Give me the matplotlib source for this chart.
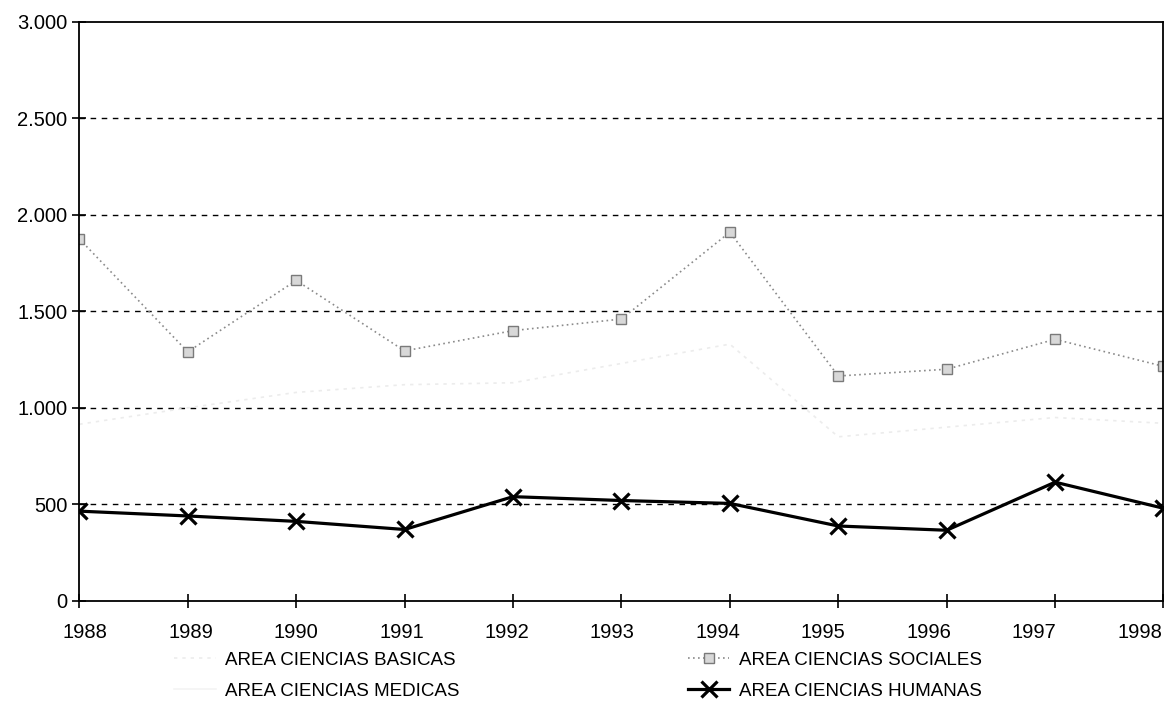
import matplotlib.pyplot as plt
import matplotlib.ticker as mticker
import matplotlib.transforms as mtrans
import numpy as np

plt.rcParams['font.family'] = ['Liberation Sans', 'DejaVu Sans']

years = [1988, 1989, 1990, 1991, 1992, 1993, 1994, 1995, 1996, 1997, 1998]
basicas = [915, 1000, 1080, 1120, 1130, 1230, 1330, 850, 900, 950, 920]
sociales = [1875, 1290, 1660, 1295, 1400, 1460, 1910, 1165, 1200, 1355, 1215]
humanas = [465, 440, 412, 370, 540, 520, 505, 388, 366, 615, 480]

fig = plt.figure(figsize=(11.67, 7.24), dpi=100)
ax = fig.add_axes([0.068, 0.17, 0.929, 0.80])

# faint series (nearly lost in the scan)
ax.plot(years, basicas, color='#ececec', lw=1.2, ls=(0, (2, 3)),
        label='AREA CIENCIAS BASICAS')
ax.plot(years, sociales, color='#8a8a8a', lw=1.2, ls=(0, (1, 2)),
        marker='s', ms=7, mfc='#d8d8d8', mec='#7a7a7a', mew=1.0,
        label='AREA CIENCIAS SOCIALES')
ax.plot([], [], color='#f4f4f4', lw=1.2, label='AREA CIENCIAS MEDICAS')
ax.plot(years, humanas, color='black', lw=2.3, marker='x', ms=12, mew=2.3,
        label='AREA CIENCIAS HUMANAS')

ax.set_xlim(1988, 1998)
ax.set_ylim(0, 3000)
ax.set_xticks(years)
ax.set_yticks(np.arange(0, 3001, 500))
ax.yaxis.set_major_formatter(mticker.FuncFormatter(
    lambda v, p: f'{int(v):,}'.replace(',', '.')))

for v in range(500, 3000, 500):
    ax.axhline(v, color='black', lw=1.0, ls=(0, (4, 4)), zorder=0)

for s in ax.spines.values():
    s.set_linewidth(1.3)
ax.tick_params(direction='inout', length=10, width=1.2, labelsize=14.5)
ax.tick_params(axis='x', pad=11)

# year labels in the original sit slightly squeezed toward the centre
for i, lab in enumerate(ax.get_xticklabels()):
    dx = (6 - 3 * i) / 100
    lab.set_transform(lab.get_transform() +
                      mtrans.ScaledTranslation(dx, 0, fig.dpi_scale_trans))

# legend order: basicas, medicas | sociales, humanas
h, l = ax.get_legend_handles_labels()
order = [0, 2, 1, 3]
ax.legend([h[i] for i in order], [l[i] for i in order], ncol=2,
          loc='upper center', bbox_to_anchor=(0.46, -0.058), frameon=False,
          fontsize=13.5, columnspacing=12.2, handlelength=2.2,
          handletextpad=0.5, labelspacing=0.75)

fig.savefig('out.png', dpi=100)
